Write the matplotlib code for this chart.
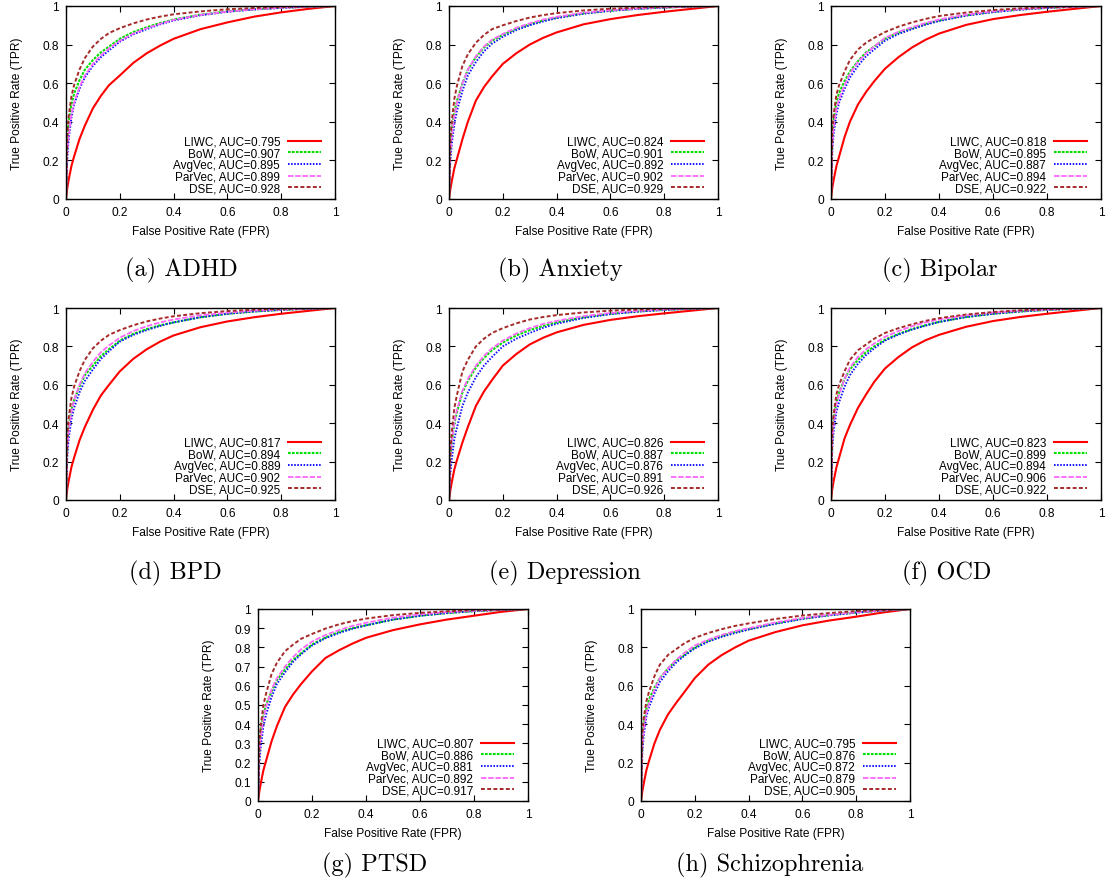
import matplotlib
matplotlib.use("Agg")
import matplotlib.pyplot as plt
from matplotlib.ticker import FormatStrFormatter

plt.rcParams['font.family'] = ['Liberation Sans', 'DejaVu Sans']

# shared false positive rate grid, TPR values
fpr = [0, 0.005, 0.01, 0.02, 0.03, 0.05, 0.07, 0.1, 0.13, 0.16, 0.2,
       0.25, 0.3, 0.35, 0.4, 0.5, 0.6, 0.7, 0.8, 0.9, 1.0]

methods = ['LIWC', 'BoW', 'AvgVec', 'ParVec', 'DSE']

# (a) ADHD
liwc_adhd = [0, .06, .10, .17, .22, .31, .38, .47, .535, .59, .64, .705, .755, .795, .83, .88, .915, .945, .967, .985, 1]
bow_adhd = [0, .32, .40, .49, .545, .615, .67, .72, .76, .79, .83, .865, .89, .912, .93, .955, .972, .983, .991, .996, 1]
avg_adhd = [0, .22, .31, .42, .49, .57, .63, .69, .735, .77, .815, .853, .88, .905, .925, .952, .97, .982, .99, .996, 1]
par_adhd = [0, .25, .33, .44, .50, .58, .64, .70, .745, .78, .82, .857, .885, .908, .928, .954, .971, .983, .991, .996, 1]
dse_adhd = [0, .34, .43, .53, .59, .67, .73, .79, .83, .86, .885, .91, .93, .945, .957, .972, .983, .99, .995, .998, 1]
auc_adhd = [0.795, 0.907, 0.895, 0.899, 0.928]

# (b) Anxiety
liwc_anx = [0, .05, .09, .16, .21, .31, .40, .51, .58, .635, .70, .755, .80, .835, .863, .905, .932, .953, .97, .985, 1]
bow_anx = [0, .27, .35, .45, .51, .60, .67, .735, .785, .82, .85, .882, .905, .925, .94, .962, .976, .986, .992, .997, 1]
avg_anx = [0, .20, .28, .39, .46, .56, .64, .71, .765, .805, .84, .875, .90, .92, .937, .96, .975, .985, .992, .997, 1]
par_anx = [0, .24, .32, .43, .50, .60, .67, .74, .79, .825, .855, .887, .91, .93, .944, .965, .978, .987, .993, .997, 1]
dse_anx = [0, .30, .40, .52, .59, .69, .75, .81, .85, .88, .90, .922, .94, .953, .963, .977, .986, .992, .996, .998, 1]
auc_anx = [0.824, 0.901, 0.892, 0.902, 0.929]

# (c) Bipolar
liwc_bip = [0, .06, .10, .17, .22, .32, .40, .49, .555, .61, .675, .735, .785, .825, .857, .902, .932, .953, .97, .985, 1]
bow_bip = [0, .33, .41, .50, .55, .61, .66, .715, .76, .79, .83, .862, .885, .907, .925, .952, .97, .982, .99, .996, 1]
avg_bip = [0, .26, .34, .44, .50, .57, .63, .69, .74, .775, .82, .855, .88, .903, .922, .95, .968, .981, .99, .996, 1]
par_bip = [0, .29, .37, .47, .52, .59, .65, .71, .755, .79, .835, .867, .89, .912, .93, .955, .972, .983, .991, .996, 1]
dse_bip = [0, .36, .44, .54, .59, .66, .72, .775, .81, .835, .865, .893, .915, .933, .948, .966, .979, .988, .994, .997, 1]
auc_bip = [0.818, 0.895, 0.887, 0.894, 0.922]

# (d) BPD
liwc_bpd = [0, .06, .10, .17, .22, .31, .38, .47, .545, .60, .67, .735, .785, .825, .857, .90, .93, .952, .97, .985, 1]
bow_bpd = [0, .30, .38, .47, .52, .59, .65, .70, .75, .785, .83, .865, .89, .91, .925, .952, .97, .982, .99, .996, 1]
avg_bpd = [0, .24, .32, .42, .48, .56, .62, .68, .735, .775, .825, .86, .885, .907, .925, .952, .97, .982, .99, .996, 1]
par_bpd = [0, .28, .36, .46, .52, .60, .66, .72, .77, .805, .845, .88, .905, .925, .94, .962, .976, .986, .992, .997, 1]
dse_bpd = [0, .34, .43, .53, .59, .67, .73, .79, .83, .86, .885, .91, .93, .945, .957, .973, .984, .991, .995, .998, 1]
auc_bpd = [0.817, 0.894, 0.889, 0.902, 0.925]

# (e) Depression
liwc_dep = [0, .05, .09, .16, .21, .30, .38, .49, .565, .625, .70, .76, .81, .845, .873, .912, .938, .957, .972, .986, 1]
bow_dep = [0, .22, .30, .40, .46, .56, .62, .69, .74, .78, .82, .857, .885, .907, .925, .952, .97, .982, .99, .996, 1]
avg_dep = [0, .14, .21, .32, .38, .49, .56, .64, .70, .745, .80, .84, .87, .897, .918, .948, .968, .981, .99, .996, 1]
par_dep = [0, .22, .30, .41, .47, .57, .63, .70, .75, .79, .83, .867, .895, .917, .933, .958, .974, .985, .992, .997, 1]
dse_dep = [0, .25, .35, .48, .55, .67, .73, .80, .84, .87, .895, .92, .94, .953, .963, .977, .986, .992, .996, .998, 1]
auc_dep = [0.826, 0.887, 0.876, 0.891, 0.926]

# (f) OCD
liwc_ocd = [0, .06, .10, .17, .22, .32, .39, .48, .55, .615, .685, .745, .795, .832, .86, .902, .932, .953, .97, .985, 1]
bow_ocd = [0, .34, .42, .51, .56, .63, .68, .73, .77, .80, .835, .865, .89, .91, .928, .953, .97, .982, .99, .996, 1]
avg_ocd = [0, .28, .36, .46, .51, .59, .65, .71, .755, .79, .83, .862, .888, .908, .927, .953, .97, .982, .99, .996, 1]
par_ocd = [0, .32, .40, .50, .55, .63, .69, .745, .785, .815, .85, .88, .905, .925, .94, .962, .976, .986, .992, .997, 1]
dse_ocd = [0, .37, .45, .55, .60, .67, .73, .78, .81, .84, .87, .895, .915, .933, .947, .966, .979, .988, .994, .997, 1]
auc_ocd = [0.823, 0.899, 0.894, 0.906, 0.922]

# (g) PTSD
liwc_ptsd = [0, .05, .09, .16, .21, .31, .39, .49, .555, .61, .675, .745, .785, .82, .85, .89, .92, .945, .965, .985, 1]
bow_ptsd = [0, .28, .36, .45, .50, .57, .63, .685, .735, .77, .815, .852, .88, .90, .915, .945, .965, .979, .989, .995, 1]
avg_ptsd = [0, .20, .28, .39, .45, .54, .61, .67, .725, .765, .81, .848, .875, .897, .915, .945, .965, .979, .989, .995, 1]
par_ptsd = [0, .25, .33, .43, .49, .58, .64, .70, .75, .79, .83, .865, .89, .912, .928, .955, .972, .984, .991, .996, 1]
dse_ptsd = [0, .30, .39, .50, .56, .66, .72, .78, .815, .845, .87, .898, .92, .937, .95, .968, .98, .988, .994, .997, 1]
auc_ptsd = [0.807, 0.886, 0.881, 0.892, 0.917]

# (h) Schizophrenia
liwc_sch = [0, .05, .09, .16, .21, .30, .37, .45, .51, .565, .64, .71, .76, .80, .835, .88, .915, .94, .96, .982, 1]
bow_sch = [0, .32, .40, .48, .53, .59, .64, .69, .73, .76, .80, .835, .86, .88, .895, .925, .95, .968, .982, .992, 1]
avg_sch = [0, .26, .34, .44, .49, .56, .62, .675, .72, .755, .795, .83, .855, .875, .893, .923, .948, .967, .981, .992, 1]
par_sch = [0, .29, .37, .46, .51, .58, .64, .69, .735, .77, .81, .84, .865, .885, .90, .93, .953, .97, .983, .993, 1]
dse_sch = [0, .35, .43, .52, .57, .65, .71, .76, .79, .82, .85, .875, .895, .912, .925, .948, .966, .979, .989, .995, 1]
auc_sch = [0.795, 0.876, 0.872, 0.879, 0.905]

captions = ['(a) ADHD', '(b) Anxiety', '(c) Bipolar', '(d) BPD', '(e) Depression',
            '(f) OCD', '(g) PTSD', '(h) Schizophrenia']

panels = [
    ([liwc_adhd, bow_adhd, avg_adhd, par_adhd, dse_adhd], auc_adhd),
    ([liwc_anx, bow_anx, avg_anx, par_anx, dse_anx], auc_anx),
    ([liwc_bip, bow_bip, avg_bip, par_bip, dse_bip], auc_bip),
    ([liwc_bpd, bow_bpd, avg_bpd, par_bpd, dse_bpd], auc_bpd),
    ([liwc_dep, bow_dep, avg_dep, par_dep, dse_dep], auc_dep),
    ([liwc_ocd, bow_ocd, avg_ocd, par_ocd, dse_ocd], auc_ocd),
    ([liwc_ptsd, bow_ptsd, avg_ptsd, par_ptsd, dse_ptsd], auc_ptsd),
    ([liwc_sch, bow_sch, avg_sch, par_sch, dse_sch], auc_sch),
]

# line styles (gnuplot-like)
colors = ['#ff0000', '#00e000', '#1010ff', '#ff66ff', '#a52a2a']
dashes = [None, (1.3, 0.6), (0.8, 0.8), (3, 1), (2, 1.2)]
widths = [1.5, 1.5, 1.4, 1.3, 1.4]

W, H = 1106, 895
# axes boxes in pixels: left, top, right, bottom
boxes = [(66, 7, 335, 200), (449, 7, 718, 200), (831, 7, 1101, 200),
         (66, 309, 335, 501), (449, 309, 718, 501), (831, 309, 1101, 501),
         (258, 610, 528, 802), (641, 610, 910, 802)]
cap_pos = [(181, 270), (560, 270), (940, 270),
           (175, 573), (565, 573), (947, 573),
           (375, 865), (770, 865)]

fig = plt.figure(figsize=(W / 100, H / 100), dpi=100)

for i, (curves, aucs) in enumerate(panels):
    l, t, r, b = boxes[i]
    ax = fig.add_axes([l / W, 1 - b / H, (r - l) / W, (b - t) / H])
    for j, tpr in enumerate(curves):
        line, = ax.plot(fpr, tpr, color=colors[j], lw=widths[j],
                        label='%s, AUC=%.3f' % (methods[j], aucs[j]))
        if dashes[j] is not None:
            line.set_dashes(dashes[j])
    ax.set_xlim(0, 1)
    ax.set_ylim(0, 1)
    ax.set_xticks([0, 0.2, 0.4, 0.6, 0.8, 1])
    if i == 6:
        ax.set_yticks([k / 10 for k in range(11)])
    else:
        ax.set_yticks([0, 0.2, 0.4, 0.6, 0.8, 1])
    ax.xaxis.set_major_formatter(FormatStrFormatter('%g'))
    ax.yaxis.set_major_formatter(FormatStrFormatter('%g'))
    ax.tick_params(direction='in', top=True, right=True, length=4, width=0.8,
                   labelsize=8.6, pad=5)
    for s in ax.spines.values():
        s.set_linewidth(1.0)
    ax.set_xlabel('False Positive Rate (FPR)', fontsize=8.6, labelpad=5)
    ax.set_ylabel('True Positive Rate (TPR)', fontsize=8.6, labelpad=14)
    ax.legend(loc='lower right', bbox_to_anchor=(1 - 10 / (r - l), 0.005),
              frameon=False, markerfirst=False, fontsize=8.5,
              handlelength=2.8, handletextpad=0.7, labelspacing=-0.03,
              borderaxespad=0, borderpad=0.3)
    cx, cy = cap_pos[i]
    fig.text(cx / W, 1 - cy / H, captions[i], fontfamily='cmr10', fontsize=17.5,
             ha='center', va='center')

fig.savefig('out.png', dpi=100)
